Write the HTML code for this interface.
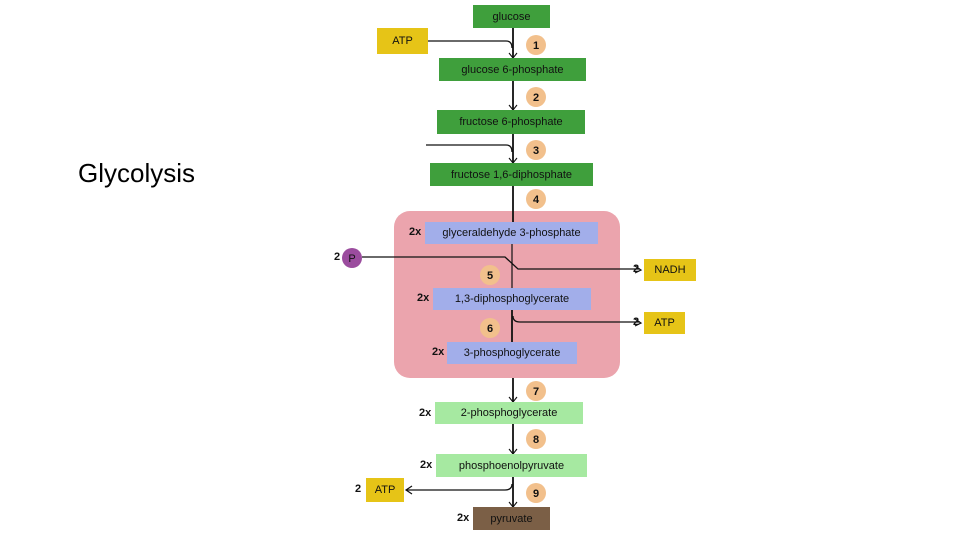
<!DOCTYPE html>
<html><head><meta charset="utf-8"><style>
body{margin:0;width:960px;height:540px;background:#fff;position:relative;overflow:hidden;font-family:"Liberation Sans",sans-serif}
.b{position:absolute;display:flex;align-items:center;justify-content:center;font-size:11px;color:#111;box-sizing:border-box}
.g{background:#3f9f3c}.y{background:#e6c417}.bl{background:#a2aeea}.lg{background:#a6e9a1}.br{background:#7b5f46}
.t{position:absolute;font-size:11px;color:#111;font-weight:bold}
</style></head><body>
<div style="position:absolute;left:394px;top:211px;width:226px;height:167px;background:#eba4ad;border-radius:16px"></div>
<div style="position:absolute;left:78px;top:158px;font-size:26px;color:#000">Glycolysis</div>
<svg width="960" height="540" style="position:absolute;left:0;top:0">
<g stroke="#111" stroke-width="1.8" fill="none">
<line x1="513" y1="28" x2="513" y2="58"/>
<line x1="513" y1="81" x2="513" y2="110"/>
<line x1="513" y1="134" x2="513" y2="163"/>
<line x1="513" y1="186" x2="513" y2="222"/>
<line x1="512" y1="244" x2="512" y2="288" stroke-width="1.2"/>
<line x1="512" y1="310" x2="512" y2="342"/>
<line x1="513" y1="378" x2="513" y2="402"/>
<line x1="513" y1="424" x2="513" y2="454"/>
<line x1="513" y1="477" x2="513" y2="507"/>
<path d="M428 41 H506 Q512 41 512 48" stroke-width="1.3"/>
<path d="M426 145 H506 Q512 145 512 152" stroke-width="1.3"/>
<path d="M362 257 H505 L518 269 H640" stroke-width="1.3"/>
<path d="M635 266 L641 270 L635 273" stroke-width="1.2"/>
<path d="M513 316 Q513 322 520 322 H640" stroke-width="1.3"/>
<path d="M635 319 L641 323 L635 326" stroke-width="1.2"/>
<path d="M512 484 Q512 490 505 490 H406" stroke-width="1.3"/>
<path d="M412 486 L406 490 L412 494" stroke-width="1.2"/>
<path d="M509 53 L513 58 L517 53 M509 105 L513 110 L517 105 M509 158 L513 163 L517 158 M509 397 L513 402 L517 397 M509 449 L513 454 L517 449 M509 502 L513 507 L517 502" stroke-width="1.1"/>
</g>
<g fill="#f2c08c">
<circle cx="536" cy="45" r="10"/><circle cx="536" cy="97" r="10"/><circle cx="536" cy="150" r="10"/><circle cx="536" cy="199" r="10"/>
<circle cx="490" cy="275" r="10"/><circle cx="490" cy="328" r="10"/>
<circle cx="536" cy="391" r="10"/><circle cx="536" cy="439" r="10"/><circle cx="536" cy="493" r="10"/>
</g>
<circle cx="352" cy="258" r="10" fill="#9b4c9e"/>
<g font-family="Liberation Sans" font-size="11" fill="#111" text-anchor="middle" font-weight="bold">
<text x="536" y="49">1</text><text x="536" y="101">2</text><text x="536" y="154">3</text><text x="536" y="203">4</text>
<text x="490" y="279">5</text><text x="490" y="332">6</text>
<text x="536" y="395">7</text><text x="536" y="443">8</text><text x="536" y="497">9</text>
<text x="352" y="262" font-weight="normal">P</text>
</g>
</svg>
<div class="b g" style="left:473px;top:5px;width:77px;height:23px">glucose</div>
<div class="b y" style="left:377px;top:28px;width:51px;height:26px">ATP</div>
<div class="b g" style="left:439px;top:58px;width:147px;height:23px">glucose 6-phosphate</div>
<div class="b g" style="left:437px;top:110px;width:148px;height:24px">fructose 6-phosphate</div>
<div class="b g" style="left:430px;top:163px;width:163px;height:23px">fructose 1,6-diphosphate</div>
<div class="b bl" style="left:425px;top:222px;width:173px;height:22px">glyceraldehyde 3-phosphate</div>
<div class="b bl" style="left:433px;top:288px;width:158px;height:22px">1,3-diphosphoglycerate</div>
<div class="b bl" style="left:447px;top:342px;width:130px;height:22px">3-phosphoglycerate</div>
<div class="b lg" style="left:435px;top:402px;width:148px;height:22px">2-phosphoglycerate</div>
<div class="b lg" style="left:436px;top:454px;width:151px;height:23px">phosphoenolpyruvate</div>
<div class="b br" style="left:473px;top:507px;width:77px;height:23px">pyruvate</div>
<div class="b y" style="left:644px;top:259px;width:52px;height:22px">NADH</div>
<div class="b y" style="left:644px;top:312px;width:41px;height:22px">ATP</div>
<div class="b y" style="left:366px;top:478px;width:38px;height:24px">ATP</div>
<div class="t" style="left:409px;top:226px">2x</div>
<div class="t" style="left:417px;top:292px">2x</div>
<div class="t" style="left:432px;top:346px">2x</div>
<div class="t" style="left:419px;top:407px">2x</div>
<div class="t" style="left:420px;top:459px">2x</div>
<div class="t" style="left:457px;top:512px">2x</div>
<div class="t" style="left:334px;top:251px">2</div>
<div class="t" style="left:633px;top:263px">2</div>
<div class="t" style="left:633px;top:316px">2</div>
<div class="t" style="left:355px;top:483px">2</div>
</body></html>
